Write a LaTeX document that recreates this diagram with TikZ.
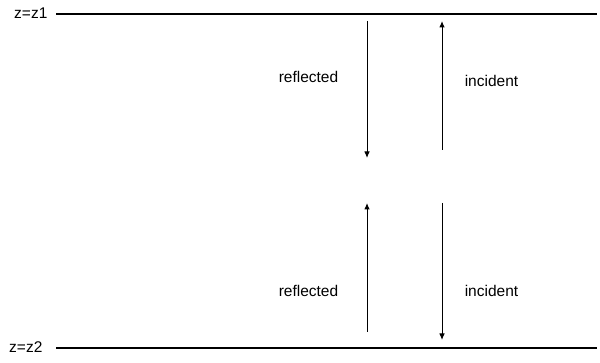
\documentclass[tikz,border=0pt]{standalone}
\usepackage{fontspec}
\setmainfont{Liberation Sans}
\usetikzlibrary{arrows.meta}
\begin{document}
\begin{tikzpicture}[x=1pt,y=-1pt,
  lbl/.style={inner sep=0pt,font=\fontsize{15.5}{17}\selectfont},
  wall/.style={line width=2pt},
  wave/.style={line width=1pt,-{Latex[length=6.5pt,width=5.5pt]}}]
\useasboundingbox (0,0) rectangle (600,363);
\node[lbl,anchor=west] (z1) at (14,13) {z=z1};
\node[lbl,anchor=west] (z2) at (9,347) {z=z2};
\coordinate (t1) at (56,14);
\coordinate (t2) at (597,14);
\coordinate (b1) at (56,348);
\coordinate (b2) at (597,348);
\draw[wall] (t1) -- (t2);
\draw[wall] (b1) -- (b2);
\coordinate (ra1) at (367,21);
\coordinate (ra2) at (367,158);
\coordinate (ia1) at (442,150);
\coordinate (ia2) at (442,21);
\coordinate (rb1) at (367,332);
\coordinate (rb2) at (367,203);
\coordinate (ib1) at (442,203);
\coordinate (ib2) at (442,340);
\draw[wave] (ra1) -- (ra2);
\draw[wave] (ia1) -- (ia2);
\draw[wave] (rb1) -- (rb2);
\draw[wave] (ib1) -- (ib2);
\node[lbl] (r1) at (308.5,77) {reflected};
\node[lbl] (i1) at (491.5,81) {incident};
\node[lbl] (r2) at (308.5,291) {reflected};
\node[lbl] (i2) at (491.5,291) {incident};
\end{tikzpicture}
\end{document}
